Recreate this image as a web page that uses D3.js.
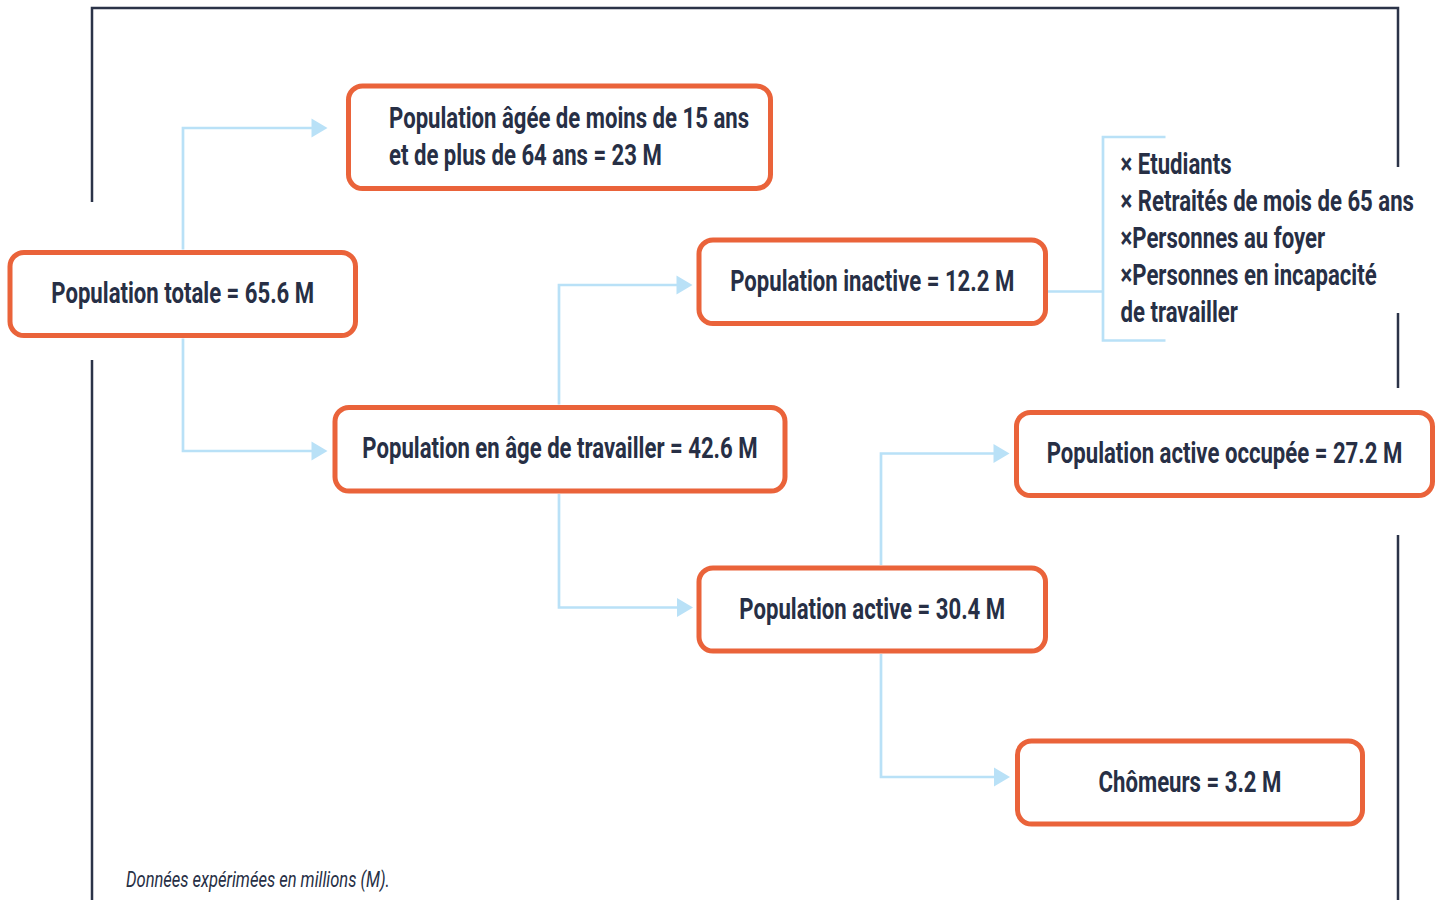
<!DOCTYPE html>
<html>
<head>
<meta charset="utf-8">
<script src="https://cdn.jsdelivr.net/npm/d3@7"></script>
<style>
  body { margin: 0; background: #ffffff; }
  svg { display: block; }
</style>
</head>
<body>
<div id="chart"></div>
<script>
// ---- data ----
const nodeIds = ["total", "horsAge", "inactive", "ageTravail", "occupee", "active", "chomeurs"];
const nodeLabels = [
    ["Population totale = 65.6 M"],
    ["Population âgée de moins de 15 ans", "et de plus de 64 ans = 23 M"],
    ["Population inactive = 12.2 M"],
    ["Population en âge de travailler = 42.6 M"],
    ["Population active occupée = 27.2 M"],
    ["Population active = 30.4 M"],
    ["Chômeurs = 3.2 M"]
];
const links = [
    ["total", "horsAge"],
    ["total", "ageTravail"],
    ["ageTravail", "inactive"],
    ["ageTravail", "active"],
    ["active", "occupee"],
    ["active", "chomeurs"]
];
const inactiveItems = [
    "× Etudiants",
    "× Retraités de mois de 65 ans",
    "×Personnes au foyer",
    "×Personnes en incapacité",
    "de travailler"
];
const note = "Données expérimées en millions (M).";

// ---- layout (pixels) ----
const width = 1440, height = 900;
const boxLayout = {
    total:      {x: 10,     y: 252.5, w: 345.5, h: 83},
    horsAge:    {x: 348.5,  y: 86,    w: 422,   h: 102.5, left: 389},
    inactive:   {x: 699,    y: 240,   w: 346.5, h: 83.5},
    ageTravail: {x: 335,    y: 407.5, w: 450,   h: 83.5},
    occupee:    {x: 1016.5, y: 412.5, w: 416,   h: 83},
    active:     {x: 699,    y: 568,   w: 346.5, h: 83},
    chomeurs:   {x: 1017.5, y: 741,   w: 345,   h: 83}
};
const linkLayout = [
    {bend: 183, y: 128,   tip: 327.5},
    {bend: 183, y: 451,   tip: 327.5},
    {bend: 559, y: 285,   tip: 692.5},
    {bend: 559, y: 607.5, tip: 693},
    {bend: 881, y: 453.5, tip: 1009.5},
    {bend: 881, y: 777,   tip: 1010}
];

const navy = "#272f45";
const orange = "#ea633a";
const blue = "#b9e1f7";
const fontFam = "Roboto, 'Liberation Sans Narrow', 'DejaVu Sans', sans-serif";
const lineGap = 37;

const x = d3.scaleIdentity().domain([0, width]);
const y = d3.scaleIdentity().domain([0, height]);

const svg = d3.select("#chart")
    .append("svg")
    .attr("width", width)
    .attr("height", height);

// horizontal squeeze so the installed font looks like the condensed original
function squeezeFor(sample, targetW, size, weight, style) {
    const t = svg.append("text")
        .attr("font-family", fontFam)
        .attr("font-size", size)
        .attr("font-weight", weight)
        .attr("font-style", style)
        .text(sample);
    const w = t.node().getComputedTextLength();
    t.remove();
    return targetW / w;
}
const squeeze = squeezeFor(nodeLabels[0][0], 263, 30, "bold", "normal");
const noteSqueeze = squeezeFor(note, 264, 22, "normal", "italic");

// frame (broken where text/boxes cross it)
const frame = [
    [[92, 202], [92, 8], [1398, 8], [1398, 167]],
    [[92, 360], [92, 900]],
    [[1398, 313], [1398, 388]],
    [[1398, 535], [1398, 900]]
];
svg.append("g")
    .selectAll("path")
    .data(frame)
    .join("path")
    .attr("d", d => d3.line().x(p => x(p[0])).y(p => y(p[1]))(d))
    .attr("fill", "none")
    .attr("stroke", "#2b3348")
    .attr("stroke-width", 2.5);

// connectors
const byId = {};
nodeIds.forEach((id, i) => byId[id] = {id: id, label: nodeLabels[i], box: boxLayout[id]});

const linkG = svg.append("g");
links.forEach(function (l, i) {
    const src = byId[l[0]].box;
    const lay = linkLayout[i];
    const goingUp = lay.y < src.y;
    const y0 = goingUp ? src.y - 3 : src.y + src.h + 3;
    const arrowLen = 16, arrowHalf = 9.5;
    linkG.append("path")
        .attr("d", d3.line()([[x(lay.bend), y(y0)], [x(lay.bend), y(lay.y)], [x(lay.tip - arrowLen + 2), y(lay.y)]]))
        .attr("fill", "none")
        .attr("stroke", blue)
        .attr("stroke-width", 2.7);
    linkG.append("path")
        .attr("d", d3.line()([
            [x(lay.tip), y(lay.y)],
            [x(lay.tip - arrowLen), y(lay.y - arrowHalf)],
            [x(lay.tip - arrowLen), y(lay.y + arrowHalf)]
        ]) + "Z")
        .attr("fill", blue);
});

// bracket for inactive details
const inact = boxLayout.inactive;
const bracket = {x0: inact.x + inact.w + 2, x: 1103, x1: 1165.5, yMid: 291.5, top: 137, bottom: 340.5};
linkG.append("path")
    .attr("d", d3.line()([[x(bracket.x0), y(bracket.yMid)], [x(bracket.x), y(bracket.yMid)]]))
    .attr("stroke", blue)
    .attr("stroke-width", 2.7);
linkG.append("path")
    .attr("d", d3.line()([[x(bracket.x1), y(bracket.top)], [x(bracket.x), y(bracket.top)],
                          [x(bracket.x), y(bracket.bottom)], [x(bracket.x1), y(bracket.bottom)]]))
    .attr("fill", "none")
    .attr("stroke", blue)
    .attr("stroke-width", 2.7);

// boxes
const nodes = svg.append("g")
    .selectAll("g")
    .data(nodeIds.map(id => byId[id]))
    .join("g");

nodes.append("rect")
    .attr("x", d => x(d.box.x))
    .attr("y", d => y(d.box.y))
    .attr("width", d => d.box.w)
    .attr("height", d => d.box.h)
    .attr("rx", 14)
    .attr("ry", 14)
    .attr("fill", "#ffffff")
    .attr("stroke", orange)
    .attr("stroke-width", 5);

nodes.each(function (d) {
    const g = d3.select(this);
    const n = d.label.length;
    const cy = d.box.y + d.box.h / 2;
    d.label.forEach(function (line, i) {
        const base = cy + (i - (n - 1) / 2) * lineGap + 9;
        const tx = d.box.left !== undefined ? d.box.left : d.box.x + d.box.w / 2;
        g.append("text")
            .attr("transform", "translate(" + x(tx) + "," + y(base) + ") scale(" + squeeze + ",1)")
            .attr("text-anchor", d.box.left !== undefined ? "start" : "middle")
            .attr("font-family", fontFam)
            .attr("font-weight", "bold")
            .attr("font-size", 30)
            .attr("fill", navy)
            .text(line);
    });
});

// list of inactive people
svg.append("g")
    .selectAll("text")
    .data(inactiveItems)
    .join("text")
    .attr("transform", (d, i) => "translate(" + x(1120.5) + "," + y(174 + i * 37) + ") scale(" + squeeze + ",1)")
    .attr("font-family", fontFam)
    .attr("font-weight", "bold")
    .attr("font-size", 30)
    .attr("fill", navy)
    .text(d => d);

// footnote
svg.append("text")
    .attr("transform", "translate(" + x(126) + "," + y(887) + ") scale(" + noteSqueeze + ",1)")
    .attr("font-family", fontFam)
    .attr("font-style", "italic")
    .attr("font-size", 22)
    .attr("fill", navy)
    .text(note);
</script>
</body>
</html>
